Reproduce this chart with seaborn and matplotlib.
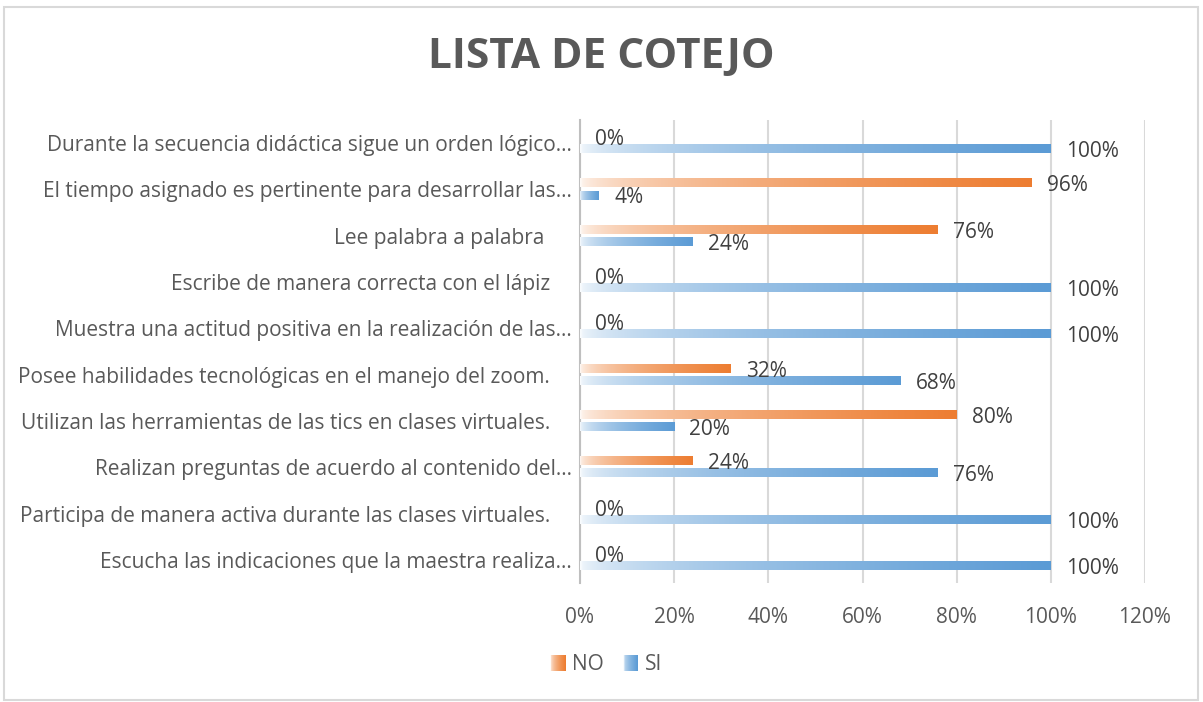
import numpy as np
import pandas as pd
import matplotlib
matplotlib.use("Agg")
import matplotlib.pyplot as plt
import matplotlib.patches as mpatches
from matplotlib.colors import to_rgb
from matplotlib.legend_handler import HandlerBase
import seaborn as sns

# ----- data -----
categories = [
    "Durante la secuencia didáctica sigue un orden lógico…",
    "El tiempo asignado es pertinente para desarrollar las…",
    "Lee palabra a palabra     ",
    "Escribe de manera correcta con el lápiz    ",
    "Muestra una actitud positiva en la realización de las…",
    "Posee habilidades tecnológicas en el manejo del zoom.    ",
    "Utilizan las herramientas de las tics en clases virtuales.    ",
    "Realizan preguntas de acuerdo al contenido del…",
    "Participa de manera activa durante las clases virtuales.    ",
    "Escucha las indicaciones que la maestra realiza…",
]
no_vals = [0.00, 0.96, 0.76, 0.00, 0.00, 0.32, 0.80, 0.24, 0.00, 0.00]
si_vals = [1.00, 0.04, 0.24, 1.00, 1.00, 0.68, 0.20, 0.76, 1.00, 1.00]
series = ["NO", "SI"]
colors = {"NO": "#ED7D31", "SI": "#5B9BD5"}
x_ticks = [0, 0.2, 0.4, 0.6, 0.8, 1.0, 1.2]

df = pd.DataFrame({
    "categoria": categories * 2,
    "serie": ["NO"] * len(categories) + ["SI"] * len(categories),
    "valor": no_vals + si_vals,
})

sns.set_style("white")
plt.rcParams["font.family"] = ["Open Sans", "DejaVu Sans"]

TEXT = "#595959"
GRID = "#D9D9D9"


def ramp(color, n=256):
    """white -> color ramp, quick rise at the start like the Excel fill"""
    t = np.linspace(0, 1, n)
    a = 0.04 + 0.96 * t ** 0.5
    c = np.array(to_rgb(color))
    rgb = (1 - a)[:, None] * np.ones(3) + a[:, None] * c
    return rgb


class GradientHandler(HandlerBase):
    """small square legend key filled with the same white->color ramp"""
    def __init__(self, color, **kw):
        super().__init__(**kw)
        self.color = color

    def create_artists(self, legend, orig_handle, xdescent, ydescent,
                       width, height, fontsize, trans):
        rgb = ramp(self.color, 16)
        side = width
        step = side / len(rgb)
        y = -ydescent + (height - side) / 2
        arts = []
        for i, c in enumerate(rgb):
            arts.append(mpatches.Rectangle((-xdescent + i * step, y), step * 1.1, side,
                                           facecolor=c, edgecolor="none", linewidth=0,
                                           transform=trans))
        return arts


fig = plt.figure(figsize=(12.03, 7.02), dpi=100)
ax = fig.add_axes([580 / 1203, 1 - 583 / 702, 565 / 1203, 463 / 702])

sns.barplot(data=df, y="categoria", x="valor", hue="serie", hue_order=series,
            palette=colors, orient="h", width=0.52, gap=0.33, ax=ax,
            legend=False, errorbar=None)

# replace flat bars by gradient images
for cont, s in zip(ax.containers, series):
    for p in cont.patches:
        w = p.get_width()
        if w <= 0:
            p.set_visible(False)
            continue
        y0, h = p.get_y(), p.get_height()
        img = ramp(colors[s])[None, :, :]
        ax.imshow(img, extent=(0, w, y0 + h, y0), aspect="auto",
                  interpolation="bilinear", zorder=3)
        p.set_visible(False)

    vals = no_vals if s == "NO" else si_vals
    labels = ax.bar_label(cont, labels=[f"{v:.0%}" for v in vals], padding=11,
                          fontsize=15, color="#404040", zorder=4)
    for t in labels:
        t.set_va("center_baseline")

ax.set_xlim(0, 1.2)
ax.set_ylim(len(categories) - 0.5, -0.5)
ax.set_xticks(x_ticks)
ax.set_xticklabels([f"{v:.0%}" for v in x_ticks])
ax.grid(axis="x", color=GRID, linewidth=1.5, zorder=0)
ax.set_axisbelow(True)
for side in ["top", "right", "bottom"]:
    ax.spines[side].set_visible(False)
ax.spines["left"].set_color("#BFBFBF")
ax.spines["left"].set_linewidth(1.5)
ax.tick_params(axis="both", length=0, labelsize=15, labelcolor=TEXT)
ax.tick_params(axis="x", pad=17)
ax.tick_params(axis="y", pad=6)
ax.set_xlabel("")
ax.set_ylabel("")

fig.text(0.5, 1 - 58 / 702, "LISTA DE COTEJO", ha="center", va="center",
         fontsize=30.5, fontweight="bold", color=TEXT)

handles = [mpatches.Patch(label=s) for s in series]
fig.legend(handles=handles, labels=series, loc="center",
           bbox_to_anchor=(606 / 1203, 1 - 665 / 702), ncol=2, frameon=False,
           fontsize=15, labelcolor=TEXT, handlelength=0.75, handletextpad=0.3,
           columnspacing=0.9,
           handler_map={handles[0]: GradientHandler(colors["NO"]),
                        handles[1]: GradientHandler(colors["SI"])})

fig.patches.append(mpatches.Rectangle((4 / 1203, 2 / 702), 1194 / 1203, 693 / 702,
                                      transform=fig.transFigure, fill=False,
                                      edgecolor=GRID, linewidth=1.5))

fig.savefig("out.png", dpi=100)
